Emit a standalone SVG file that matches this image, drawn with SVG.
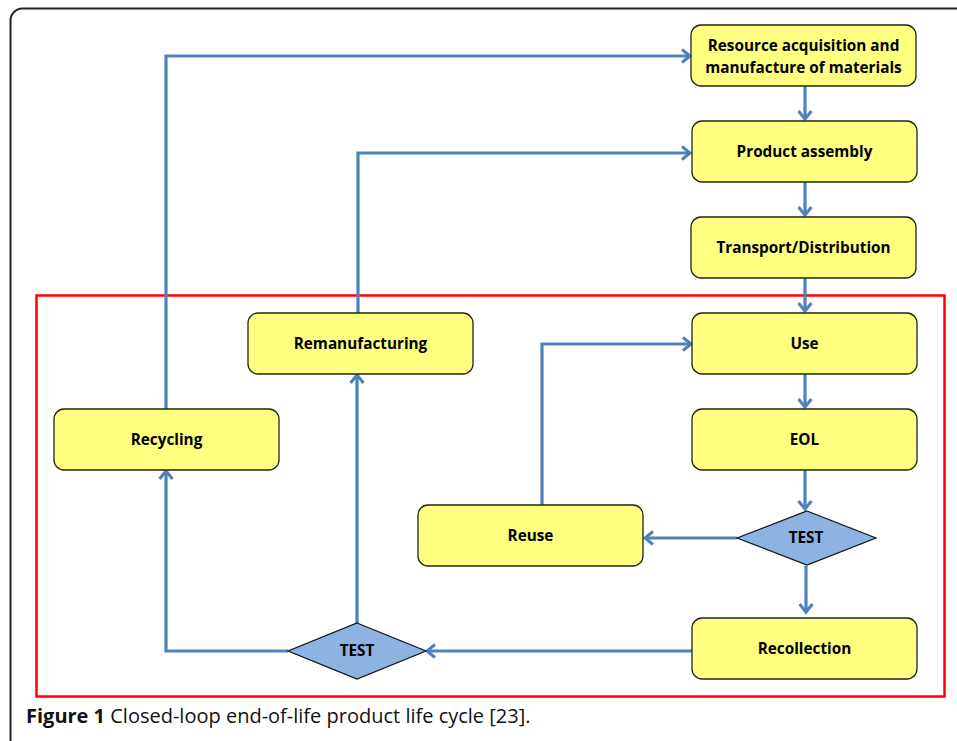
<svg xmlns="http://www.w3.org/2000/svg" width="957" height="741" viewBox="0 0 957 741">
<style>
.box{fill:#FFFF80;stroke:#222;stroke-width:1.3}
.dia{fill:#8DB3E2;stroke:#111;stroke-width:1.2}
.lbl{font-family:"Open Sans","Liberation Sans",sans-serif;font-weight:bold;font-size:15.3px;fill:#000;text-anchor:middle}
.con{fill:none;stroke:#4F81BD;stroke-width:3.2}
</style>
<defs>
<marker id="ah" markerWidth="16" markerHeight="16" refX="11" refY="8" orient="auto" markerUnits="userSpaceOnUse">
<path d="M3,1.5 L11,8 L3,14.5" fill="none" stroke="#4F81BD" stroke-width="3"/>
</marker>
</defs>
<rect x="10.5" y="8.5" width="980" height="745" rx="12" fill="#fff" stroke="#222" stroke-width="2"/>
<rect x="36.5" y="295.5" width="908" height="401" fill="none" stroke="#FF0000" stroke-width="2.5"/>
<g id="connectors">
<path class="con" d="M166,409 V56 H690" marker-end="url(#ah)"/>
<path class="con" d="M358,313 V153 H690" marker-end="url(#ah)"/>
<path class="con" d="M805,86 V119" marker-end="url(#ah)"/>
<path class="con" d="M805,182 V215" marker-end="url(#ah)"/>
<path class="con" d="M805,278 V311" marker-end="url(#ah)"/>
<path class="con" d="M805,374 V407" marker-end="url(#ah)"/>
<path class="con" d="M805,470 V509" marker-end="url(#ah)"/>
<path class="con" d="M737,538 H645" marker-end="url(#ah)"/>
<path class="con" d="M542,505 V344 H691" marker-end="url(#ah)"/>
<path class="con" d="M806,566 V612" marker-end="url(#ah)"/>
<path class="con" d="M692,651 H427" marker-end="url(#ah)"/>
<path class="con" d="M357,623 V375" marker-end="url(#ah)"/>
<path class="con" d="M288,651 H166 V471" marker-end="url(#ah)"/>
</g>
<g id="resource"><rect class="box" x="691" y="25" width="225" height="61" rx="10"/><text class="lbl" x="803.5" y="51">Resource acquisition and</text><text class="lbl" x="803.5" y="73">manufacture of materials</text></g>
<g id="assembly"><rect class="box" x="692" y="121" width="225" height="61" rx="10"/><text class="lbl" x="804.5" y="157">Product assembly</text></g>
<g id="transport"><rect class="box" x="691" y="217" width="225" height="61" rx="10"/><text class="lbl" x="803.5" y="253">Transport/Distribution</text></g>
<g id="use"><rect class="box" x="692" y="313" width="225" height="61" rx="10"/><text class="lbl" x="804.5" y="349">Use</text></g>
<g id="eol"><rect class="box" x="692" y="409" width="225" height="61" rx="10"/><text class="lbl" x="804.5" y="445">EOL</text></g>
<g id="test1"><polygon class="dia" points="807,511 876,538 807,565 737,538"/><text class="lbl" x="806" y="543">TEST</text></g>
<g id="reuse"><rect class="box" x="418" y="505" width="225" height="61" rx="10"/><text class="lbl" x="530.5" y="541">Reuse</text></g>
<g id="recollection"><rect class="box" x="692" y="618" width="225" height="61" rx="10"/><text class="lbl" x="804.5" y="654">Recollection</text></g>
<g id="test2"><polygon class="dia" points="357,623 426,651 357,679 288,651"/><text class="lbl" x="357" y="656">TEST</text></g>
<g id="remanufacturing"><rect class="box" x="248" y="313" width="225" height="61" rx="10"/><text class="lbl" x="360.5" y="349">Remanufacturing</text></g>
<g id="recycling"><rect class="box" x="54" y="409" width="225" height="61" rx="10"/><text class="lbl" x="166.5" y="445">Recycling</text></g>
<text x="26" y="723" font-family="'Open Sans','Noto Sans',sans-serif" font-size="20" fill="#111"><tspan font-weight="bold">Figure 1</tspan> Closed-loop end-of-life product life cycle [23].</text>
</svg>
